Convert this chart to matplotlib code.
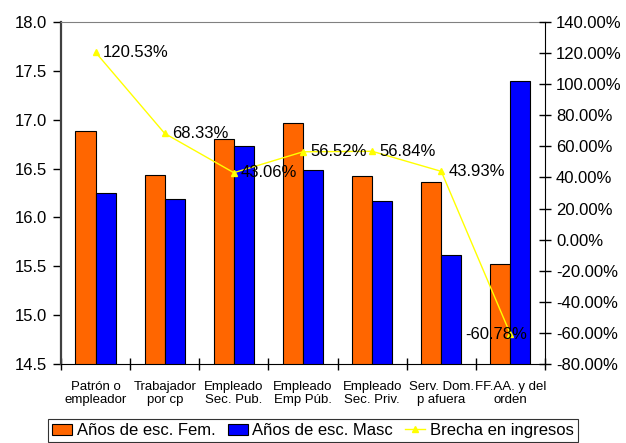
import matplotlib
matplotlib.use("Agg")
import matplotlib.pyplot as plt
import numpy as np

plt.rcParams["font.family"] = ["Liberation Sans", "DejaVu Sans"]

categorias = ["Patrón o\nempleador", "Trabajador\npor cp", "Empleado\nSec. Pub.",
              "Empleado\nEmp Púb.", "Empleado\nSec. Priv.", "Serv. Dom.\np afuera",
              "FF.AA. y del\norden"]
anios_fem = [16.88, 16.43, 16.80, 16.97, 16.42, 16.36, 15.52]
anios_masc = [16.25, 16.19, 16.73, 16.49, 16.17, 15.62, 17.40]
brecha = [120.53, 68.33, 43.06, 56.52, 56.84, 43.93, -60.78]

fig = plt.figure(figsize=(6.26, 4.43), dpi=100)
ax = fig.add_axes([0.0974, 0.1783, 0.7732, 0.772])
x = np.arange(len(categorias))
w = 0.29

b1 = ax.bar(x - w / 2, anios_fem, w, color="#FF6600", edgecolor="black",
            linewidth=0.8, label="Años de esc. Fem.")
b2 = ax.bar(x + w / 2, anios_masc, w, color="#0000FF", edgecolor="black",
            linewidth=0.8, label="Años de esc. Masc")
ax.set_ylim(14.5, 18.0)
ax.set_xlim(-0.5, len(categorias) - 0.5)
ax.set_yticks(np.arange(14.5, 18.01, 0.5))
ax.set_yticklabels([f"{v:.1f}" for v in np.arange(14.5, 18.01, 0.5)], fontsize=12)
ax.set_xticks(np.arange(-0.5, len(categorias), 1.0))
ax.set_xticklabels([])
ax.set_xticks(x, minor=True)
ax.set_xticklabels(categorias, minor=True, fontsize=9.5)
ax.tick_params(axis="x", which="minor", length=0, pad=12)
ax.tick_params(axis="x", which="major", direction="inout", length=8, width=1)
ax.tick_params(axis="y", direction="out", length=6, width=1, pad=4)
ax.spines["left"].set_color("#404040")
ax.spines["left"].set_linewidth(1.6)
ax.spines["top"].set_color("#808080")
ax.spines["top"].set_linewidth(0.8)
ax.spines["right"].set_visible(False)

ax2 = ax.twinx()
l1, = ax2.plot(x, brecha, color="#FFFF00", linewidth=1, marker="^", markersize=5,
               label="Brecha en ingresos")
ax2.set_ylim(-80, 140)
ax2.set_yticks(np.arange(-80, 141, 20))
ax2.set_yticklabels([f"{v:.2f}%" for v in np.arange(-80, 141, 20)], fontsize=12)
ax2.tick_params(axis="y", direction="inout", length=8, width=1, pad=4)
ax2.spines["right"].set_color("black")
ax2.spines["top"].set_visible(False)
ax2.spines["left"].set_visible(False)
ax2.spines["bottom"].set_visible(False)

for i, v in enumerate(brecha):
    if i == len(brecha) - 1:
        ax2.annotate(f"{v:.2f}%", (x[i], v), xytext=(12, 0), textcoords="offset points",
                     ha="right", va="center", fontsize=12)
    else:
        ax2.annotate(f"{v:.2f}%", (x[i], v), xytext=(5, 0), textcoords="offset points",
                     ha="left", va="center", fontsize=12)

leg = fig.legend([b1, b2, l1], [b1.get_label(), b2.get_label(), l1.get_label()],
                 loc="upper center", bbox_to_anchor=(0.5, 0.054), ncol=3, fontsize=12,
                 frameon=True, fancybox=False, edgecolor="black", handlelength=1.2,
                 handletextpad=0.3, columnspacing=0.7, borderpad=0.25,
                 borderaxespad=0)
leg.get_frame().set_linewidth(0.8)

fig.savefig("out.png", dpi=100)
